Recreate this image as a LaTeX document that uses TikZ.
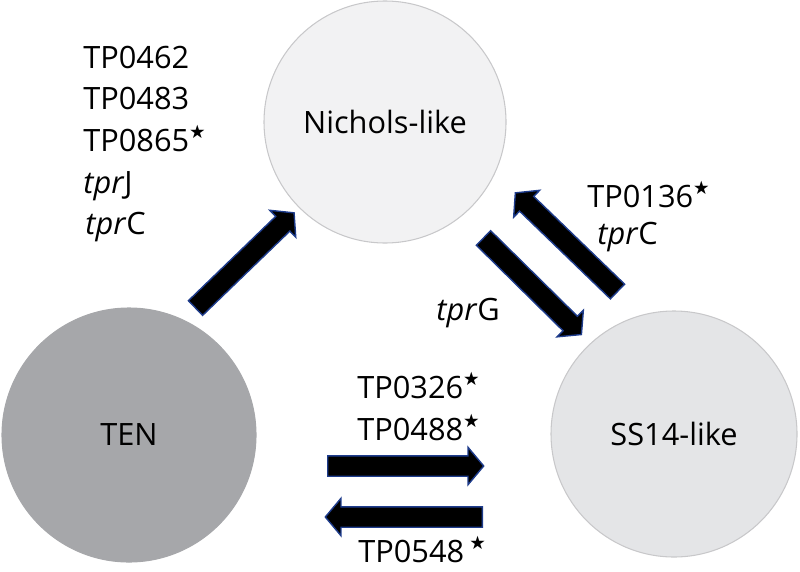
\documentclass[tikz,border=0pt]{standalone}
\usepackage{fontspec}
\setmainfont{Open Sans}
\newfontfamily\starfont{DejaVu Sans}
\usetikzlibrary{shapes.arrows}

\definecolor{nicholsgray}{RGB}{242,242,243}
\definecolor{ssgray}{RGB}{228,229,231}
\definecolor{tengray}{RGB}{166,167,170}
\definecolor{rimgray}{RGB}{200,200,202}
\definecolor{arrowblue}{RGB}{30,60,140}
\newcommand{\mstar}{\raisebox{0.42em}{\fontsize{10.5}{10.5}\selectfont\starfont ★}}

\begin{document}
\begin{tikzpicture}[every node/.style={font=\fontsize{17.5}{24}\selectfont},
  strain/.style={circle, draw=rimgray, line width=.6pt, inner sep=0pt},
  gene/.style={anchor=base west, inner sep=0pt},
  fatarrow/.style={single arrow, fill=black, draw=arrowblue, line width=.8pt, inner sep=0pt, inner ysep=.19cm,
    single arrow head extend=.17cm, single arrow tip angle=100, anchor=tail}]
  \useasboundingbox (0,0) rectangle (16,11.42);
  % strains
  \node (nichols) [strain, fill=nicholsgray, minimum size=4.84cm] at (7.70,8.98) {Nichols-like};
  \node (ten) [strain, fill=tengray, draw=tengray, minimum size=5.08cm] at (2.58,2.72) {TEN};
  \node (ss14) [strain, fill=ssgray, minimum size=4.92cm] at (13.48,2.74) {SS14-like};
  % arrows
  \node (tennic) [fatarrow, minimum height=2.74cm, rotate=44] at (3.90,5.25) {};
  \node (nicss) [fatarrow, minimum height=2.75cm, rotate=-44.6] at (9.66,6.67) {};
  \node (ssnic) [fatarrow, minimum height=2.84cm, rotate=136] at (12.36,5.58) {};
  \node (tenss) [fatarrow, minimum height=3.12cm] at (6.54,2.10) {};
  \node (sston) [fatarrow, minimum height=3.14cm, rotate=180] at (9.66,1.08) {};
  % genes
  \node (g0462) [gene] at (1.66,10.06) {TP0462};
  \node (g0483) [gene] at (1.66,9.24) {TP0483};
  \node (g0865) [gene] at (1.66,8.40) {TP0865\mstar};
  \node (gtprJ) [gene] at (1.66,7.56) {\textit{tpr}J};
  \node (gtprC) [gene] at (1.70,6.74) {\textit{tpr}C};
  \node (g0136) [gene] at (11.74,7.28) {TP0136\mstar};
  \node (gtprC2) [gene] at (11.94,6.54) {\textit{tpr}C};
  \node (gtprG) [gene] at (8.72,5.02) {\textit{tpr}G};
  \node (g0326) [gene] at (7.14,3.46) {TP0326\mstar};
  \node (g0488) [gene] at (7.14,2.62) {TP0488\mstar};
  \node (g0548) [gene] at (7.16,0.18) {TP0548\,\mstar};
\end{tikzpicture}
\end{document}
